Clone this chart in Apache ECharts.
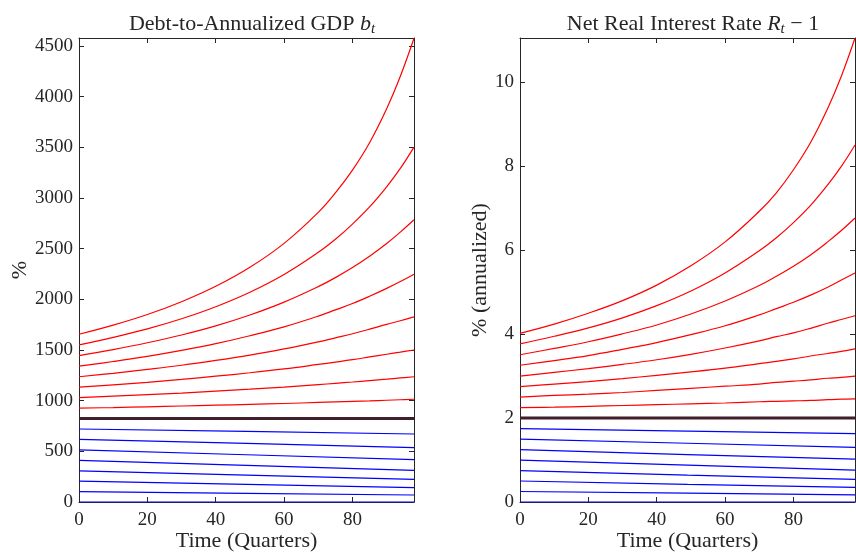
<!DOCTYPE html>
<html>
<head>
<meta charset="utf-8">
<script src="https://cdn.jsdelivr.net/npm/echarts@6/dist/echarts.min.js"></script>
<style>
  html, body { margin: 0; padding: 0; background: #fff; }
  #chart { width: 856px; height: 552px; }
</style>
</head>
<body>
<div id="chart"></div>
<script>
const quarters = [0, 10, 20, 30, 40, 50, 60, 70, 75, 80, 85, 90, 94, 98];
const quartersStable = [0, 49, 98];

// debt-to-GDP (%), paths starting above the steady state (top to bottom)
const debtExplosive = [
  [1655, 1745, 1850, 1976, 2128, 2316, 2552, 2858, 3050, 3275, 3545, 3880, 4200, 4575],
  [1550, 1624, 1708, 1808, 1927, 2070, 2245, 2463, 2592, 2742, 2911, 3110, 3291, 3501],
  [1445, 1504, 1571, 1648, 1738, 1845, 1972, 2125, 2214, 2313, 2425, 2550, 2663, 2785],
  [1340, 1386, 1437, 1496, 1562, 1640, 1728, 1834, 1895, 1958, 2030, 2108, 2175, 2248],
  [1236, 1270, 1308, 1349, 1397, 1450, 1510, 1580, 1620, 1660, 1705, 1753, 1788, 1826],
  [1133, 1156, 1181, 1209, 1241, 1275, 1313, 1357, 1380, 1404, 1431, 1458, 1479, 1500],
  [1030, 1044, 1059, 1075, 1094, 1113, 1134, 1158, 1171, 1184, 1198, 1212, 1224, 1236],
  [926, 932, 939, 947, 955, 963, 972, 982, 987, 993, 998, 1004, 1009, 1014]
];
// debt-to-GDP (%), paths starting below the steady state
const debtStable = [
  [720, 697, 671],
  [617, 578, 537],
  [514, 466, 418],
  [411, 361, 313],
  [308, 265, 224],
  [205, 173, 142],
  [103, 86, 69],
  [0, 0, 0]
];
const debtSteady = 823;

// net real interest rate (% annualized)
const rateExplosive = [
  [4.02, 4.24, 4.50, 4.80, 5.17, 5.63, 6.20, 6.93, 7.37, 7.92, 8.57, 9.38, 10.15, 11.06],
  [3.77, 3.95, 4.15, 4.39, 4.68, 5.03, 5.46, 5.99, 6.30, 6.66, 7.07, 7.56, 8.00, 8.51],
  [3.51, 3.66, 3.82, 4.01, 4.22, 4.48, 4.79, 5.16, 5.38, 5.62, 5.89, 6.20, 6.47, 6.77],
  [3.26, 3.37, 3.49, 3.64, 3.80, 3.99, 4.20, 4.46, 4.61, 4.76, 4.93, 5.12, 5.29, 5.46],
  [3.00, 3.09, 3.18, 3.28, 3.39, 3.52, 3.67, 3.84, 3.94, 4.03, 4.14, 4.26, 4.35, 4.44],
  [2.75, 2.81, 2.87, 2.94, 3.02, 3.10, 3.19, 3.30, 3.35, 3.41, 3.48, 3.54, 3.59, 3.65],
  [2.50, 2.54, 2.57, 2.61, 2.66, 2.71, 2.76, 2.81, 2.85, 2.88, 2.91, 2.95, 2.97, 3.00],
  [2.25, 2.26, 2.28, 2.30, 2.32, 2.34, 2.36, 2.39, 2.40, 2.41, 2.42, 2.44, 2.45, 2.46]
];
const rateStable = [
  [1.75, 1.69, 1.63],
  [1.50, 1.40, 1.30],
  [1.25, 1.13, 1.02],
  [1.00, 0.88, 0.76],
  [0.75, 0.64, 0.54],
  [0.50, 0.42, 0.35],
  [0.25, 0.21, 0.17],
  [0, 0, 0]
];
const rateSteady = 2.0;

const FONT = "Liberation Serif";
const AX = "#262626";

function pairs(xs, ys) {
  return ys.map((y, i) => [xs[i], y]);
}

function mkSeries(gridIdx, explosive, stable, steady) {
  const out = [];
  out.push({
    type: "line", xAxisIndex: gridIdx * 2, yAxisIndex: gridIdx * 2,
    data: [[0, steady], [98, steady]],
    symbol: "none", silent: true,
    lineStyle: { color: "#3e1f2a", width: 3 }
  });
  stable.forEach((ys) => {
    out.push({
      type: "line", xAxisIndex: gridIdx * 2, yAxisIndex: gridIdx * 2,
      data: pairs(quartersStable, ys), smooth: true,
      symbol: "none", silent: true,
      lineStyle: { color: "#0000ff", width: 1.2 }
    });
  });
  explosive.forEach((ys) => {
    out.push({
      type: "line", xAxisIndex: gridIdx * 2, yAxisIndex: gridIdx * 2,
      data: pairs(quarters, ys), smooth: 0.4,
      symbol: "none", silent: true,
      lineStyle: { color: "#ff0000", width: 1.2 }
    });
  });
  return out;
}

function xAxes(gridIdx) {
  const base = {
    gridIndex: gridIdx, type: "value", min: 0, max: 98, interval: 20,
    axisLine: { onZero: false, lineStyle: { color: AX, width: 1 } },
    axisTick: { inside: true, length: 5, lineStyle: { color: AX } },
    splitLine: { show: false }
  };
  return [
    Object.assign({}, base, {
      position: "bottom",
      axisLabel: { color: AX, fontFamily: FONT, fontSize: 19, margin: 9, showMaxLabel: false },
      name: "Time (Quarters)", nameLocation: "middle", nameGap: 28, nameMoveOverlap: false,
      nameTextStyle: { color: AX, fontFamily: FONT, fontSize: 22 }
    }),
    Object.assign({}, base, { position: "top", axisLabel: { show: false } })
  ];
}

function yAxes(gridIdx, max, interval, name, nameGap) {
  const base = {
    gridIndex: gridIdx, type: "value", min: 0, max: max, interval: interval,
    axisLine: { onZero: false, lineStyle: { color: AX, width: 1 } },
    axisTick: { inside: true, length: 5, lineStyle: { color: AX } },
    splitLine: { show: false }
  };
  return [
    Object.assign({}, base, {
      position: "left",
      axisLabel: {
        color: AX, fontFamily: FONT, fontSize: 19, margin: 6, showMaxLabel: false,
        formatter: (v) => String(v)
      },
      name: name, nameLocation: "middle", nameGap: nameGap, nameRotate: 90, nameMoveOverlap: false,
      nameTextStyle: { color: AX, fontFamily: FONT, fontSize: 22 }
    }),
    Object.assign({}, base, { position: "right", axisLabel: { show: false } })
  ];
}

const titleRich = {
  i: { fontFamily: FONT, fontStyle: "italic", fontSize: 22, color: AX },
  s: { fontFamily: FONT, fontStyle: "italic", fontSize: 15, color: AX, padding: [11, 0, 0, 0] }
};

const chart = echarts.init(document.getElementById("chart"));
chart.setOption({
  backgroundColor: "#fff",
  animation: false,
  title: [
    {
      text: "Debt-to-Annualized GDP {i|b}{s|t}",
      left: 247, top: 6, textAlign: "center",
      textStyle: { fontFamily: FONT, fontSize: 22, fontWeight: "normal", color: AX, rich: titleRich }
    },
    {
      text: "Net Real Interest Rate {i|R}{s|t} − 1",
      left: 688, top: 6, textAlign: "center",
      textStyle: { fontFamily: FONT, fontSize: 22, fontWeight: "normal", color: AX, rich: titleRich }
    }
  ],
  grid: [
    { left: 79, top: 38, width: 335, height: 464, outerBoundsMode: "none", containLabel: false },
    { left: 520, top: 38, width: 335, height: 464, outerBoundsMode: "none", containLabel: false }
  ],
  xAxis: [].concat(xAxes(0), xAxes(1)),
  yAxis: [].concat(
    yAxes(0, 4578, 500, "%", 48),
    yAxes(1, 11.06, 2, "% (annualized)", 29)
  ),
  series: [].concat(
    mkSeries(0, debtExplosive, debtStable, debtSteady),
    mkSeries(1, rateExplosive, rateStable, rateSteady)
  )
});
</script>
</body>
</html>
